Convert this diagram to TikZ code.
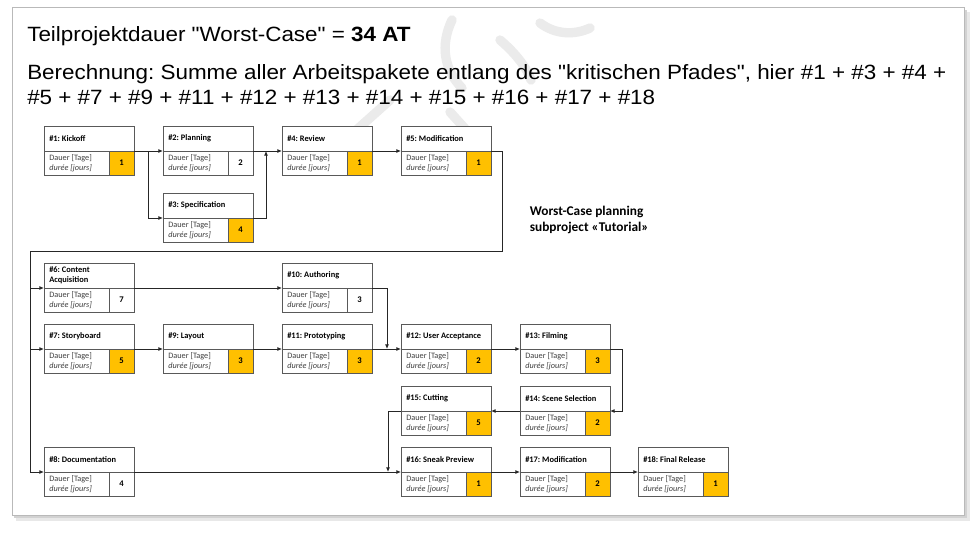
\documentclass[tikz,border=0pt]{standalone}
\usepackage{fontspec}
\usepackage{graphicx}
\setmainfont{Liberation Sans}[Ligatures=TeXOff]
\newfontfamily\calibri{Carlito}
\usetikzlibrary{arrows.meta,calc}
\definecolor{apgold}{HTML}{FFC000}
\frenchspacing
\tikzset{
  apouter/.style={draw=black!65, line width=0.6pt, minimum width=67.5pt, minimum height=36.75pt, inner sep=0pt, outer sep=0pt, fill=white},
  apval/.style={draw=black!65, line width=0.6pt, minimum width=18.75pt, minimum height=18pt, inner sep=0pt, outer sep=0pt, font=\calibri\bfseries\fontsize{6.5}{7}\selectfont},
  aptitle/.style={anchor=west, inner sep=0pt, align=left, font=\calibri\bfseries\fontsize{6.3}{7.5}\selectfont},
  apbody/.style={anchor=west, inner sep=0pt, align=left, text=black!75, font=\calibri\fontsize{6.2}{7.5}\selectfont},
  apdiv/.style={draw=black!65, line width=0.6pt},
  conn/.style={draw=black!85, line width=0.6pt},
  arr/.style={conn, -{Latex[length=3.4pt,width=2.8pt]}},
  headline/.style={anchor=base west, inner sep=0pt, font=\fontsize{15.5}{18}\selectfont},
  wctext/.style={anchor=base west, inner sep=0pt, font=\calibri\bfseries\fontsize{10}{12}\selectfont},
  wmark/.style={draw=gray!16, line width=7pt, line cap=round}
}
\newcommand{\hstretch}[1]{\scalebox{1.085}[1]{#1}}
\newcommand{\apbox}[6]{%
  \node[apouter] (#1) at ({#2+45},{#3+24.5}) {};
  \coordinate (#1-l) at (#2,{#3+25});
  \coordinate (#1-r) at ({#2+90},{#3+25});
  \draw[apdiv] (#1-l) -- (#1-r);
  \node[apval, fill=#6] (#1-v) at ({#2+77.5},{#3+37}) {#5};
  \node[aptitle] (#1-t) at ({#2+5},{#3+12.5}) {#4};
  \node[apbody] (#1-b) at ({#2+5},{#3+37}) {Dauer [Tage]\\\textit{durée [jours]}};
}
\begin{document}
\begin{tikzpicture}[x=0.75pt,y=-0.75pt]
\useasboundingbox (0,0) rectangle (978,533);
\fill[white] (0,0) rectangle (978,533);
% frame with shadow
\fill[gray!18] (16,12) rectangle (970,521);
\fill[gray!35] (14,10) rectangle (967,518);
\draw[gray!55, fill=white, line width=0.6pt] (12,7) rectangle (964,515);
% watermark
\draw[wmark] (452,20) .. controls (440,45) and (444,70) .. (462,88);
\draw[wmark] (500,40) .. controls (514,52) and (526,66) .. (531,80);
\draw[wmark] (540,23) .. controls (556,35) and (575,35) .. (590,28);
\draw[wmark] (352,134) -- (390,100);
\draw[wmark] (450,112) -- (468,132);
% headline
\node[headline] (h1) at (27,41.7) {\hstretch{Teilprojektdauer "Worst-Case" = \textbf{34 AT}}};
\node[headline] (h2) at (27,79.3) {\hstretch{Berechnung: Summe aller Arbeitspakete entlang des "kritischen Pfades", hier \#1 + \#3 + \#4 +}};
\node[headline] (h3) at (27,104) {\hstretch{\#5 + \#7 + \#9 + \#11 + \#12 + \#13 + \#14 + \#15 + \#16 + \#17 + \#18}};
\node[wctext] (wc1) at (529.5,215) {Worst-Case planning};
\node[wctext] (wc2) at (529.5,231) {subproject «Tutorial»};
% boxes
\apbox{b1}{44}{126}{\#1: Kickoff}{1}{apgold}
\apbox{b2}{163}{126}{\#2: Planning}{2}{white}
\apbox{b3}{163}{193}{\#3: Specification}{4}{apgold}
\apbox{b4}{282}{126}{\#4: Review}{1}{apgold}
\apbox{b5}{401}{126}{\#5: Modification}{1}{apgold}
\apbox{b6}{44}{263}{\#6: Content\\Acquisition}{7}{white}
\apbox{b10}{282}{263}{\#10: Authoring}{3}{white}
\apbox{b7}{44}{324}{\#7: Storyboard}{5}{apgold}
\apbox{b9}{163}{324}{\#9: Layout}{3}{apgold}
\apbox{b11}{282}{324}{\#11: Prototyping}{3}{apgold}
\apbox{b12}{401}{324}{\#12: User Acceptance}{2}{apgold}
\apbox{b13}{520}{324}{\#13: Filming}{3}{apgold}
\apbox{b15}{401}{386}{\#15: Cutting}{5}{apgold}
\apbox{b14}{520}{386}{\#14: Scene Selection}{2}{apgold}
\apbox{b8}{44}{447}{\#8: Documentation}{4}{white}
\apbox{b16}{401}{447}{\#16: Sneak Preview}{1}{apgold}
\apbox{b17}{520}{447}{\#17: Modification}{2}{apgold}
\apbox{b18}{638}{447}{\#18: Final Release}{1}{apgold}
% junction coordinates
\coordinate (j1) at (148,151);
\coordinate (j3) at (266,151);
\coordinate (c5) at (502,251);
\coordinate (c6) at (30,251);
\coordinate (j10) at (387,349);
\coordinate (c13a) at (622,349);
\coordinate (c13b) at (622,411);
\coordinate (c15a) at (388,411);
\coordinate (j16) at (388,472);
% connectors
\draw[arr] (b1-r) -- (b2-l);
\draw[arr] (j1) |- (b3-l);
\draw[arr] (b3-r) -| (j3);
\draw[arr] (b2-r) -- (b4-l);
\draw[arr] (b4-r) -- (b5-l);
\draw[conn] (b5-r) -| (c5) -- (c6);
\draw[arr] (c6) |- (b8-l);
\draw[arr] (b6-l -| c6) -- (b6-l);
\draw[arr] (b7-l -| c6) -- (b7-l);
\draw[arr] (b6-r) -- (b10-l);
\draw[arr] (b10-r) -| (j10);
\draw[arr] (b7-r) -- (b9-l);
\draw[arr] (b9-r) -- (b11-l);
\draw[arr] (b11-r) -- (b12-l);
\draw[arr] (b12-r) -- (b13-l);
\draw[arr] (b13-r) -- (c13a) -- (c13b) -- (b14-r);
\draw[arr] (b14-l) -- (b15-r);
\draw[arr] (b15-l) -- (c15a) -- (j16);
\draw[arr] (b8-r) -- (b16-l);
\draw[arr] (b16-r) -- (b17-l);
\draw[arr] (b17-r) -- (b18-l);
\end{tikzpicture}
\end{document}
